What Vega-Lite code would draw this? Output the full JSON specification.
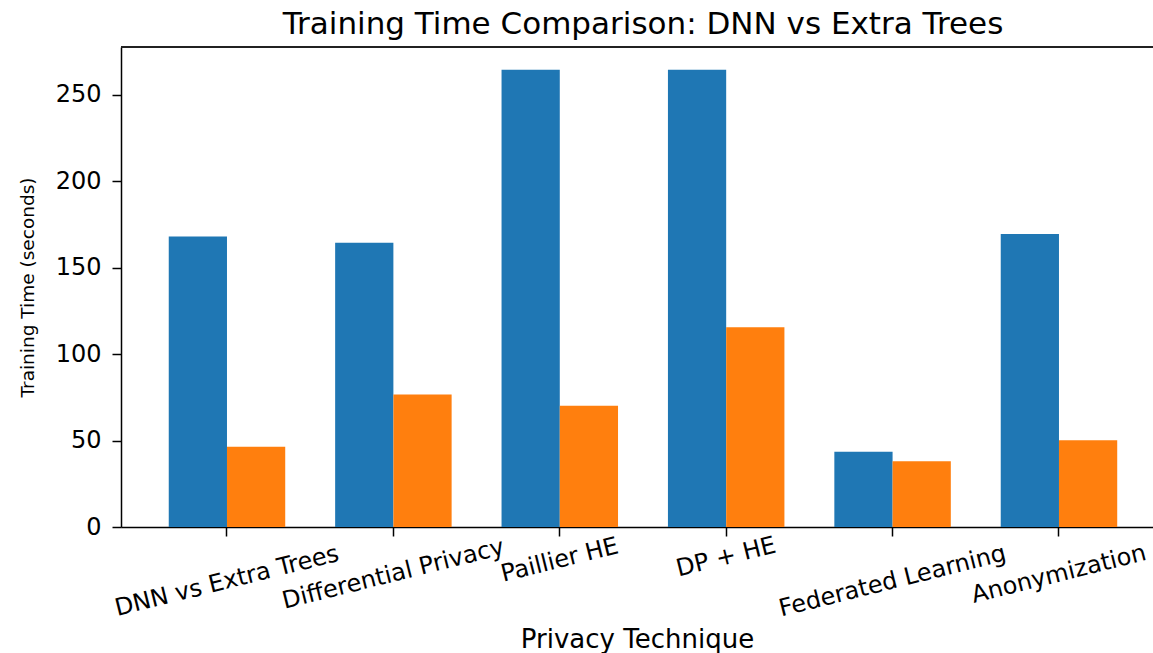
{
  "$schema": "https://vega.github.io/schema/vega-lite/v6.json",
  "width": 1032,
  "height": 480,
  "autosize": {"type": "none"},
  "padding": {"left": 121, "top": 47, "right": 0, "bottom": 126},
  "background": "white",
  "title": {
    "text": "Training Time Comparison: DNN vs Extra Trees",
    "font": "DejaVu Sans",
    "fontSize": 31,
    "fontWeight": "normal",
    "color": "#000000",
    "offset": 5,
    "dx": 6
  },
  "data": {
    "values": [
      {"technique": "DNN vs Extra Trees", "model": "DNN", "seconds": 168.0},
      {"technique": "DNN vs Extra Trees", "model": "Extra Trees", "seconds": 46.5},
      {"technique": "Differential Privacy", "model": "DNN", "seconds": 164.4},
      {"technique": "Differential Privacy", "model": "Extra Trees", "seconds": 76.7},
      {"technique": "Paillier HE", "model": "DNN", "seconds": 264.6},
      {"technique": "Paillier HE", "model": "Extra Trees", "seconds": 70.2},
      {"technique": "DP + HE", "model": "DNN", "seconds": 264.6},
      {"technique": "DP + HE", "model": "Extra Trees", "seconds": 115.6},
      {"technique": "Federated Learning", "model": "DNN", "seconds": 43.5},
      {"technique": "Federated Learning", "model": "Extra Trees", "seconds": 38.0},
      {"technique": "Anonymization", "model": "DNN", "seconds": 169.5},
      {"technique": "Anonymization", "model": "Extra Trees", "seconds": 50.2}
    ]
  },
  "layer": [
    {
      "mark": {"type": "bar"},
      "encoding": {
        "x": {
          "field": "technique",
          "type": "nominal",
          "sort": ["DNN vs Extra Trees", "Differential Privacy", "Paillier HE", "DP + HE", "Federated Learning", "Anonymization"],
          "scale": {"paddingInner": 0, "paddingOuter": 0.101, "align": 0.678},
          "axis": {
            "title": "Privacy Technique",
            "labelAngle": -14,
            "labelAlign": "center",
            "labelBaseline": "middle",
            "labelPadding": {
              "condition": [
                {"test": "datum.label === 'Paillier HE'", "value": 24},
                {"test": "datum.label === 'DP + HE'", "value": 21},
                {"test": "datum.label === 'Differential Privacy' || datum.label === 'Anonymization'", "value": 38}
              ],
              "value": 45
            },
            "labelFont": "DejaVu Sans",
            "labelFontSize": 24,
            "labelColor": "#000000",
            "labelOverlap": false,
            "labelLimit": 0,
            "tickSize": 9,
            "tickColor": "#000000",
            "tickWidth": 1.5,
            "domainColor": "#000000",
            "domainWidth": 1.5,
            "titleFont": "DejaVu Sans",
            "titleFontSize": 26,
            "titleFontWeight": "normal",
            "titleColor": "#000000",
            "titlePadding": 6
          }
        },
        "xOffset": {
          "field": "model",
          "type": "nominal",
          "sort": ["DNN", "Extra Trees"],
          "scale": {"paddingInner": 0, "paddingOuter": 0.4286}
        },
        "y": {
          "field": "seconds",
          "type": "quantitative",
          "scale": {"domain": [0, 277.7], "nice": false},
          "axis": {
            "title": "Training Time (seconds)",
            "values": [0, 50, 100, 150, 200, 250],
            "grid": false,
            "labelFont": "DejaVu Sans",
            "labelFontSize": 24,
            "labelColor": "#000000",
            "labelPadding": 11,
            "tickSize": 9,
            "tickColor": "#000000",
            "tickWidth": 1.5,
            "domainColor": "#000000",
            "domainWidth": 1.5,
            "titleFont": "DejaVu Sans",
            "titleFontSize": 18.5,
            "titleFontWeight": "normal",
            "titleColor": "#000000",
            "titlePadding": 18
          }
        },
        "color": {
          "field": "model",
          "type": "nominal",
          "scale": {"domain": ["DNN", "Extra Trees"], "range": ["#1f77b4", "#ff7f0e"]},
          "legend": null
        }
      }
    },
    {
      "mark": {"type": "rule", "color": "#222222", "strokeWidth": 1.5},
      "encoding": {"y": {"datum": 277.7}}
    }
  ],
  "config": {"view": {"stroke": null}, "font": "DejaVu Sans"}
}
